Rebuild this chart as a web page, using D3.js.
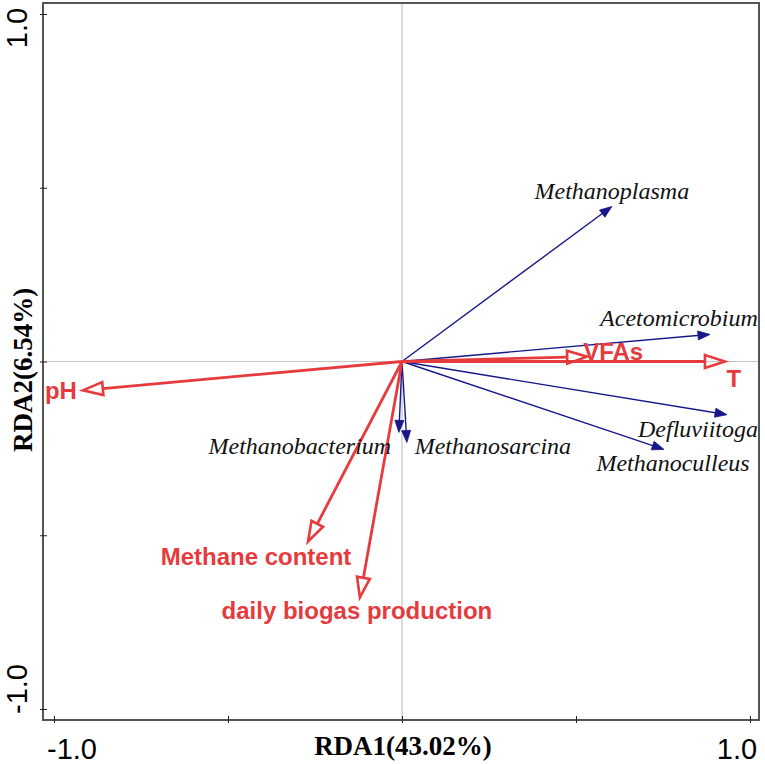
<!DOCTYPE html>
<html>
<head>
<meta charset="utf-8">
<script src="https://cdn.jsdelivr.net/npm/d3@7"></script>
<style>
html,body{margin:0;padding:0;background:#fff;}
svg{display:block;}
</style>
</head>
<body>
<svg id="chart" width="765" height="764"></svg>
<script>
// ---- data ----
const envNames = ["pH", "T", "VFAs", "Methane content", "daily biogas production"];
const envRDA1  = [-0.917, 0.928, 0.532, -0.270, -0.121];
const envRDA2  = [-0.083, 0.000, 0.014, -0.518, -0.679];

const taxaNames = ["Methanoplasma", "Acetomicrobium", "Defluviitoga", "Methanoculleus", "Methanobacterium", "Methanosarcina"];
const taxaRDA1  = [0.603, 0.885, 0.934, 0.753, -0.009, 0.014];
const taxaRDA2  = [0.446, 0.078, -0.153, -0.253, -0.204, -0.233];

const tickValues = [-1, -0.5, 0, 0.5, 1];
const tickLabels = {"-1": "-1.0", "1": "1.0"};
const xTitle = "RDA1(43.02%)";
const yTitle = "RDA2(6.54%)";

// ---- drawing ----
const svg = d3.select("#chart");
const x = d3.scaleLinear().domain([-1, 1]).range([54, 750]);
const y = d3.scaleLinear().domain([-1, 1]).range([709, 14]);
const frame = {left: 43, right: 759, top: 3, bottom: 720};
const red = "#e63b3d", blue = "#17178a";

// zero lines
svg.append("line").attr("x1", x(0)).attr("x2", x(0)).attr("y1", frame.top).attr("y2", frame.bottom)
  .attr("stroke", "#c4c4c4").attr("stroke-width", 1.2);
svg.append("line").attr("x1", frame.left).attr("x2", frame.right).attr("y1", y(0)).attr("y2", y(0))
  .attr("stroke", "#c4c4c4").attr("stroke-width", 1.2);

// frame
svg.append("rect").attr("x", frame.left).attr("y", frame.top)
  .attr("width", frame.right - frame.left).attr("height", frame.bottom - frame.top)
  .attr("fill", "none").attr("stroke", "#555").attr("stroke-width", 2);

// ticks (crossing the frame)
const gx = svg.append("g").attr("transform", `translate(0,${frame.bottom + 3})`)
  .call(d3.axisBottom(x).tickValues(tickValues).tickSize(7).tickFormat(""));
gx.select(".domain").remove();
gx.selectAll(".tick line").attr("transform", "translate(0,-7)").attr("stroke", "#222");
const gy = svg.append("g").attr("transform", `translate(${frame.left - 3},0)`)
  .call(d3.axisLeft(y).tickValues(tickValues).tickSize(7).tickFormat(""));
gy.select(".domain").remove();
gy.selectAll(".tick line").attr("transform", "translate(7,0)").attr("stroke", "#222");

// tick labels
const tickFont = "'Liberation Sans', Arial, sans-serif";
svg.append("text").attr("x", 72).attr("y", 759).attr("text-anchor", "middle")
  .attr("font-family", tickFont).attr("font-size", 29).text(tickLabels["-1"]);
svg.append("text").attr("x", 737).attr("y", 759).attr("text-anchor", "middle")
  .attr("font-family", tickFont).attr("font-size", 29).text(tickLabels["1"]);
svg.append("text").attr("transform", "translate(27,28) rotate(-90)").attr("text-anchor", "middle")
  .attr("font-family", tickFont).attr("font-size", 29).text(tickLabels["1"]);
svg.append("text").attr("transform", "translate(27,689) rotate(-90)").attr("text-anchor", "middle")
  .attr("font-family", tickFont).attr("font-size", 29).text(tickLabels["-1"]);

// axis titles
const titleFont = "'Liberation Serif', 'Times New Roman', serif";
svg.append("text").attr("x", 403).attr("y", 755).attr("text-anchor", "middle")
  .attr("font-family", titleFont).attr("font-weight", "bold").attr("font-size", 27).text(xTitle);
svg.append("text").attr("transform", "translate(32,370) rotate(-90)").attr("text-anchor", "middle")
  .attr("font-family", titleFont).attr("font-weight", "bold").attr("font-size", 27).text(yTitle);

// arrow helper
function arrow(g, x1, y1, x2, y2, opts) {
  const dx = x2 - x1, dy = y2 - y1, L = Math.hypot(dx, dy);
  const ux = dx / L, uy = dy / L, px = -uy, py = ux;
  const bx = x2 - ux * opts.len, by = y2 - uy * opts.len;
  const lineEnd = opts.open ? [bx, by] : [x2 - ux * opts.len * 0.6, y2 - uy * opts.len * 0.6];
  g.append("line").attr("x1", x1).attr("y1", y1).attr("x2", lineEnd[0]).attr("y2", lineEnd[1])
    .attr("stroke", opts.color).attr("stroke-width", opts.lw);
  const pts = [[x2, y2], [bx + px * opts.w / 2, by + py * opts.w / 2], [bx - px * opts.w / 2, by - py * opts.w / 2]];
  g.append("polygon").attr("points", pts.map(p => p.join(",")).join(" "))
    .attr("fill", opts.open ? "#fff" : opts.color).attr("fill-opacity", opts.open ? 0 : 1)
    .attr("stroke", opts.color).attr("stroke-width", opts.open ? 2.6 : 0.8)
    .attr("stroke-linejoin", "miter");
}

// taxa (blue) arrows
const taxaOffsets = {
  "Methanoplasma": [0, -8, "middle"],
  "Acetomicrobium": [-31, -8, "middle"],
  "Defluviitoga": [-29, 22, "middle"],
  "Methanoculleus": [9, 22, "middle"],
  "Methanobacterium": [-99, 22, "middle"],
  "Methanosarcina": [86, 12, "middle"]
};
const gTaxa = svg.append("g");
taxaNames.forEach((n, i) => {
  arrow(gTaxa, x(0), y(0), x(taxaRDA1[i]), y(taxaRDA2[i]), {color: blue, lw: 1.4, len: 12, w: 9, open: false});
});

// env (red) arrows
const envOffsets = {
  "pH": [-6, 9, "end"],
  "T": [9, 25, "middle"],
  "VFAs": [-4, 3, "start"],
  "Methane content": [-52, 23, "middle"],
  "daily biogas production": [-3, 22, "middle"]
};
const gEnv = svg.append("g");
envNames.forEach((n, i) => {
  arrow(gEnv, x(0), y(0), x(envRDA1[i]), y(envRDA2[i]), {color: red, lw: 2.8, len: 20, w: 13, open: true});
});

// labels
taxaNames.forEach((n, i) => {
  const o = taxaOffsets[n];
  svg.append("text").attr("x", x(taxaRDA1[i]) + o[0]).attr("y", y(taxaRDA2[i]) + o[1])
    .attr("text-anchor", o[2]).attr("font-family", titleFont).attr("font-style", "italic")
    .attr("font-size", 24).attr("fill", "#111").text(n);
});
envNames.forEach((n, i) => {
  const o = envOffsets[n];
  svg.append("text").attr("x", x(envRDA1[i]) + o[0]).attr("y", y(envRDA2[i]) + o[1])
    .attr("text-anchor", o[2]).attr("font-family", tickFont).attr("font-weight", "bold")
    .attr("font-size", 24).attr("fill", red).text(n);
});
</script>
</body>
</html>
